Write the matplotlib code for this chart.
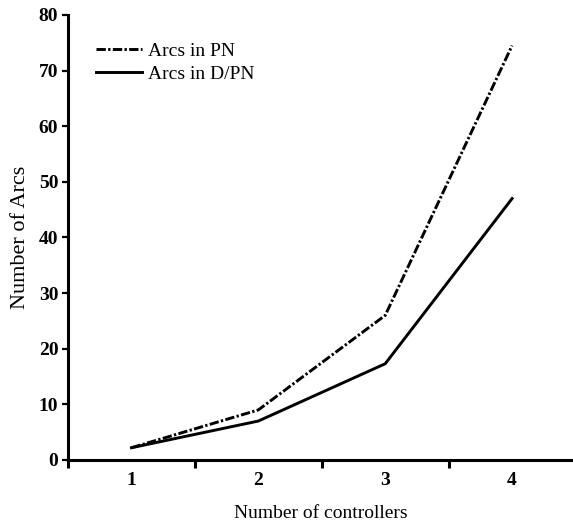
import matplotlib
matplotlib.use("Agg")
import matplotlib.pyplot as plt

controllers = [1, 2, 3, 4]
arcs_pn = [2.2, 9.0, 26.0, 74.5]
arcs_dpn = [2.2, 7.0, 17.3, 47.0]

plt.rcParams['font.family'] = ['Liberation Serif', 'DejaVu Serif']

fig = plt.figure(figsize=(5.73, 5.23), dpi=100)
ax = fig.add_axes([0.1187, 0.1205, 0.8813, 0.8509])

ax.plot(controllers, arcs_pn, color='black', lw=2.1, linestyle=(0, (3.2, 0.8, 0.8, 0.8)), label='Arcs in PN')
ax.plot(controllers, arcs_dpn, color='black', lw=2.1, linestyle='-', label='Arcs in D/PN')

ax.set_xlim(0.5, 4.48)
ax.set_ylim(0, 80)

ax.spines['top'].set_visible(False)
ax.spines['right'].set_visible(False)
ax.spines['left'].set_linewidth(2.2)
ax.spines['bottom'].set_linewidth(2.2)

# ticks between categories, labels centred under the points
ax.set_xticks([0.5, 1.5, 2.5, 3.5])
ax.set_xticklabels([])
ax.set_xticks(controllers, minor=True)
ax.set_xticklabels(['1', '2', '3', '4'], minor=True, fontsize=14, fontweight='bold')
ax.tick_params(axis='x', which='major', direction='out', length=6, width=2.2)
ax.tick_params(axis='x', which='minor', length=0, pad=9)

ax.set_yticks(range(0, 81, 10))
ax.set_yticklabels([str(v) for v in range(0, 81, 10)], fontsize=14, fontweight='bold')
ax.tick_params(axis='y', direction='out', length=4, width=1.6, pad=3)

ax.set_xlabel('Number of controllers', fontsize=14, labelpad=11)
ax.set_ylabel('Number of Arcs', fontsize=16, labelpad=6)

ax.legend(loc='upper left', bbox_to_anchor=(0.02, 0.978), frameon=False, fontsize=14,
          handlelength=2.4, handletextpad=0.3, labelspacing=0.28)

fig.savefig('out.png', dpi=100)
